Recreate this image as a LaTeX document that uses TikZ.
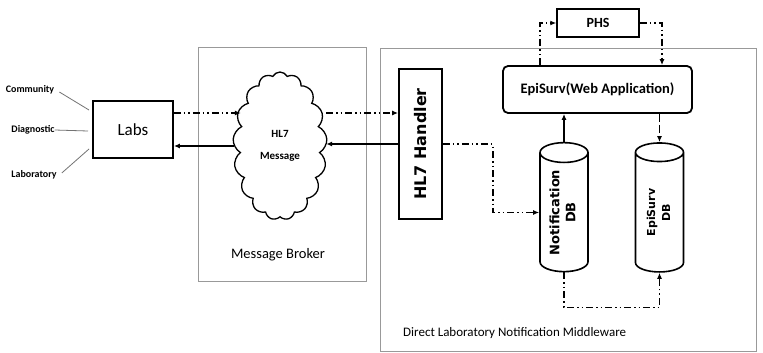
\documentclass[tikz,border=0pt]{standalone}
\usepackage{fontspec}
\setmainfont{Carlito}
\newfontfamily\dvsans{DejaVu Sans}
\usetikzlibrary{shapes.geometric,shapes.symbols,arrows.meta}
\tikzset{
  thickbox/.style={draw=black, line width=1.8pt, inner sep=0pt},
  graybox/.style={draw=black!40, line width=0.9pt, inner sep=0pt},
  lbl/.style={inner sep=0pt},
  side/.style={font=\bfseries\fontsize{10}{11}\selectfont, inner sep=0pt},
  sideline/.style={draw=black!55, line width=0.8pt},
  dd/.style={line width=1.4pt, dash pattern=on 7pt off 3pt on 1.5pt off 3pt on 1.5pt off 3pt},
  sol/.style={line width=1.4pt},
  arr/.style={-{Latex[length=6pt,width=5pt]}},
  db/.style={cylinder, draw, line width=1.6pt, shape border rotate=90, minimum width=48pt,
    minimum height=129pt, aspect=0.6, inner sep=0pt}
}
\begin{document}
\begin{tikzpicture}[x=1pt,y=-1pt]
\fill[white] (0,0) rectangle (763,353);
\useasboundingbox (0,0) rectangle (763,353);

% containers
\node[graybox, minimum width=168pt, minimum height=234pt] (mb) at (282,164) {};
\node[graybox, minimum width=376pt, minimum height=303pt] (dlnm) at (568,199.5) {};
\node[lbl, font=\fontsize{14.5}{16}\selectfont] (mbl) at (278,255) {Message Broker};
\node[lbl, anchor=west, font=\fontsize{13}{15}\selectfont] (dlnml) at (403,333) {Direct Laboratory Notification Middleware};

% side labels
\node[side] (comm) at (30,90) {Community};
\node[side] (diag) at (33,130) {Diagnostic};
\node[side] (lab) at (34,175) {Laboratory};

% main nodes
\node[thickbox, minimum width=80pt, minimum height=57pt, font=\fontsize{17}{19}\selectfont] (labs) at (133,129.5) {Labs};
\node[cloud, draw, line width=1.3pt, cloud puffs=17, cloud puff arc=125, cloud ignores aspect,
  minimum width=94pt, minimum height=148pt, inner sep=0pt, align=center,
  font=\bfseries\fontsize{11}{22}\selectfont] (cloud) at (280,146) {HL7\\Message};
\node[thickbox, minimum width=43pt, minimum height=150pt] (hl7) at (420.5,144)
  {\rotatebox{90}{\dvsans\bfseries\fontsize{16}{18}\selectfont HL7 Handler}};
\node[thickbox, rounded corners=5pt, minimum width=189pt, minimum height=47pt,
  font=\bfseries\fontsize{14.5}{17}\selectfont] (epi) at (597.5,89.5) {EpiSurv(Web Application)};
\node[draw, line width=1.5pt, inner sep=0pt, minimum width=82pt, minimum height=28pt,
  font=\bfseries\fontsize{14}{16}\selectfont] (phs) at (598,23) {PHS};
\node[db] (ndb) at (564,212.5)
  {\rotatebox{90}{\dvsans\bfseries\fontsize{13}{17}\selectfont\begin{tabular}{@{}c@{}}Notification\\[-1pt]DB\end{tabular}}};
\node[db] (edb) at (659.5,212.5)
  {\rotatebox{90}{\dvsans\bfseries\fontsize{11}{16}\selectfont\begin{tabular}{@{}c@{}}EpiSurv\\[-1pt]DB\end{tabular}}};

% side lines
\coordinate (c1) at (89,110);
\coordinate (c2) at (88,131);
\coordinate (c3) at (89,149);
\draw[sideline] ([xshift=5pt,yshift=-2pt]comm.east) -- (c1);
\draw[sideline] (diag.east) -- (c2);
\draw[sideline] ([xshift=5pt,yshift=2pt]lab.east) -- (c3);

% connectors
\draw[dd, arr] ([yshift=16.5pt]labs.east) -- ([yshift=16.5pt,xshift=7pt]labs.east -| cloud.west);
\draw[sol, arr] (cloud.west) -- (cloud.west -| labs.east);
\draw[dd, arr] ([yshift=31pt]hl7.west -| cloud.east) -- ([yshift=31pt]hl7.west);
\draw[sol, arr] (hl7.west) -- (hl7.west -| cloud.east);
\draw[dd, arr] (hl7.east) -- ++(50,0) |- (ndb.west);
\draw[sol, arr] (ndb.north) -- (ndb.north |- epi.south);
\draw[sol, dash pattern=on 8pt off 3pt, arr] (edb.north |- epi.south) -- (edb.north);
\draw[dd, arr] (ndb.south) -- ++(0,35) -| (edb.south);
\draw[dd, arr] ([xshift=-57.5pt]epi.north) |- (phs.west);
\draw[dd, arr] (phs.east) -| ([xshift=64.5pt]epi.north);
\end{tikzpicture}
\end{document}
